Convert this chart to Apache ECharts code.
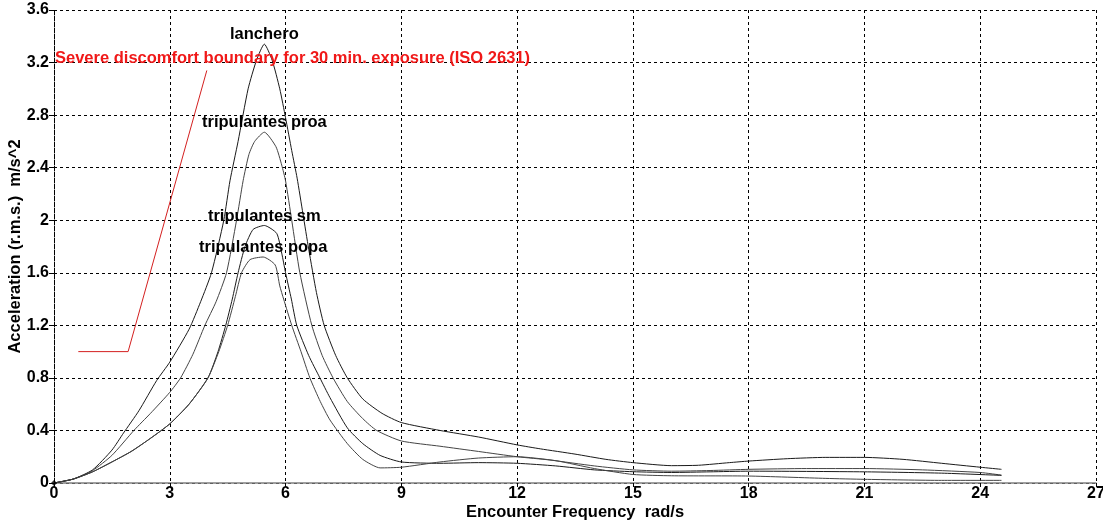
<!DOCTYPE html>
<html>
<head>
<meta charset="utf-8">
<script src="https://cdn.jsdelivr.net/npm/echarts@6/dist/echarts.min.js"></script>
<style>
  html, body { margin: 0; padding: 0; background: #fff; }
  #chart { width: 1103px; height: 523px; }
</style>
</head>
<body>
<div id="chart"></div>
<script>
// Encounter frequency (rad/s) vs. r.m.s. vertical acceleration (m/s^2)
const xTickLabels = ['0', '3', '6', '9', '12', '15', '18', '21', '24', '27'];
const yTickLabels = ['0', '0.4', '0.8', '1.2', '1.6', '2', '2.4', '2.8', '3.2', '3.6'];

const lancheroData = [
  [0, 0], [0.5, 0.03], [1, 0.1], [1.5, 0.25], [1.8, 0.38], [2.2, 0.55], [2.66, 0.78],
  [3, 0.92], [3.5, 1.17], [3.8, 1.38], [4.08, 1.6], [4.4, 2.0], [4.56, 2.3], [4.77, 2.6],
  [5.03, 3.0], [5.25, 3.22], [5.45, 3.34], [5.65, 3.22], [5.85, 3.0], [6.0, 2.78],
  [6.16, 2.53], [6.3, 2.32], [6.45, 2.05], [6.6, 1.78], [6.8, 1.45], [7.0, 1.2],
  [7.3, 0.97], [7.6, 0.8], [8.0, 0.64], [8.5, 0.53], [9, 0.46], [10, 0.4], [11, 0.35],
  [12, 0.29], [12.6, 0.26], [13.5, 0.22], [14.3, 0.18], [15, 0.155], [16, 0.132],
  [16.7, 0.135], [17.5, 0.155], [18, 0.167], [19, 0.185], [20, 0.195], [21, 0.195],
  [22, 0.18], [23, 0.15], [24, 0.12], [24.55, 0.104]
];

const proaData = [
  [0, 0], [0.5, 0.03], [1, 0.095], [1.5, 0.21], [2.07, 0.4], [2.5, 0.53], [3, 0.69],
  [3.28, 0.8], [3.6, 0.98], [3.91, 1.2], [4.2, 1.38], [4.47, 1.6], [4.73, 2.0], [4.9, 2.3],
  [5.05, 2.5], [5.2, 2.6], [5.45, 2.67], [5.75, 2.56], [5.9, 2.42], [6.0, 2.3], [6.16, 2.0],
  [6.37, 1.6], [6.68, 1.2], [6.95, 0.97], [7.23, 0.8], [7.6, 0.62], [8, 0.49], [8.36, 0.4],
  [9, 0.32], [10, 0.28], [11, 0.24], [12, 0.2], [12.85, 0.175], [14, 0.13], [15, 0.1],
  [16, 0.09], [17, 0.095], [18, 0.104], [19.5, 0.11], [21, 0.11], [22.5, 0.1], [24, 0.08],
  [24.55, 0.06]
];

const smData = [
  [0, 0], [0.5, 0.03], [1, 0.085], [1.5, 0.16], [2, 0.24], [2.5, 0.34], [3, 0.45],
  [3.5, 0.6], [3.99, 0.8], [4.25, 1.0], [4.45, 1.2], [4.62, 1.4], [4.77, 1.6], [4.95, 1.8],
  [5.16, 1.93], [5.45, 1.96], [5.77, 1.9], [5.9, 1.75], [6.0, 1.6], [6.15, 1.4], [6.29, 1.2],
  [6.6, 0.97], [6.89, 0.8], [7.15, 0.65], [7.6, 0.42], [8, 0.3], [8.45, 0.21], [9, 0.16],
  [10, 0.15], [11, 0.155], [12, 0.15], [13, 0.13], [14, 0.1], [15, 0.086], [16, 0.08],
  [17, 0.085], [18, 0.09], [21, 0.085], [23, 0.075], [24.55, 0.058]
];

const popaData = [
  [0, 0], [0.5, 0.03], [1, 0.085], [1.5, 0.16], [2, 0.24], [2.5, 0.34], [3, 0.45],
  [3.5, 0.6], [3.99, 0.8], [4.27, 1.0], [4.5, 1.2], [4.7, 1.42], [4.86, 1.6], [5.08, 1.7],
  [5.42, 1.72], [5.73, 1.66], [5.85, 1.5], [5.95, 1.4], [6.16, 1.2], [6.4, 1.0], [6.63, 0.8],
  [6.9, 0.62], [7.15, 0.48], [7.6, 0.3], [8, 0.18], [8.45, 0.115], [9, 0.12], [10, 0.16],
  [11, 0.19], [12, 0.2], [13, 0.17], [14, 0.11], [15, 0.065], [16, 0.055], [18, 0.053],
  [20, 0.035], [21, 0.028], [23, 0.02], [24.55, 0.02]
];

// ISO 2631 severe discomfort boundary, 30 min exposure
const isoX = [0.63, 1.92, 3.96];
const isoY = [1.0, 1.0, 3.14];
const isoTitle = 'Severe discomfort boundary for 30 min. exposure (ISO 2631)';

const FONT = 'Arial, "Liberation Sans", sans-serif';

function curve(name, points, color) {
  return {
    name, type: 'line', data: points,
    showSymbol: false, symbol: 'none', smooth: 0.2,
    lineStyle: { color, width: 1 }, z: 3,
    // series name written just above the curve's maximum
    markPoint: {
      symbol: 'circle', symbolSize: 0, silent: true,
      data: [{ type: 'max', valueDim: 'y' }],
      label: {
        show: true, position: 'top', distance: 1, formatter: name,
        color: '#000', fontFamily: FONT, fontWeight: 'bold', fontSize: 16.5
      }
    }
  };
}

const chart = echarts.init(document.getElementById('chart'), null, { renderer: 'canvas' });

chart.setOption({
  animation: false,
  backgroundColor: '#fff',
  title: {
    text: isoTitle, left: 50, top: 45,
    textStyle: { color: '#f01818', fontFamily: FONT, fontWeight: 'bold', fontSize: 16.5 }
  },
  grid: { left: 54, right: 7, top: 10, bottom: 40, containLabel: false, outerBoundsMode: 'none' },
  xAxis: {
    type: 'value', min: 0, max: 27, interval: 3,
    name: 'Encounter Frequency  rad/s', nameLocation: 'middle', nameGap: 21,
    nameMoveOverlap: false,
    nameTextStyle: { color: '#000', fontFamily: FONT, fontWeight: 'bold', fontSize: 16.5 },
    axisLine: { show: true, onZero: false, lineStyle: { color: '#808080', width: 1.5 } },
    axisTick: { show: true, length: 4, lineStyle: { color: '#000' } },
    axisLabel: {
      color: '#000', fontFamily: FONT, fontWeight: 'bold', fontSize: 16, margin: 3,
      formatter: v => xTickLabels[Math.round(v / 3)]
    },
    splitLine: { show: true, lineStyle: { color: '#000', type: [3, 3], width: 1 } }
  },
  yAxis: {
    type: 'value', min: 0, max: 3.6, interval: 0.4,
    name: 'Acceleration (r.m.s.)  m/s^2', nameLocation: 'middle', nameGap: 30,
    nameMoveOverlap: false,
    nameTextStyle: { color: '#000', fontFamily: FONT, fontWeight: 'bold', fontSize: 16.5 },
    axisLine: { show: true, lineStyle: { color: '#000', type: [3, 3], width: 1 } },
    axisTick: { show: true, length: 5, lineStyle: { color: '#000' } },
    axisLabel: {
      color: '#000', fontFamily: FONT, fontWeight: 'bold', fontSize: 16, margin: 5,
      formatter: v => yTickLabels[Math.round(v / 0.4)]
    },
    splitLine: { show: true, lineStyle: { color: '#000', type: [3, 3], width: 1 } }
  },
  series: [
    curve('lanchero', lancheroData, '#1a1a1a'),
    curve('tripulantes proa', proaData, '#444'),
    curve('tripulantes sm', smData, '#1a1a1a'),
    curve('tripulantes popa', popaData, '#444'),
    {
      name: 'ISO 2631', type: 'line', data: isoX.map((x, i) => [x, isoY[i]]),
      showSymbol: false, symbol: 'none', lineStyle: { color: '#d42020', width: 1 }, z: 2
    },
    {
      name: 'origin', type: 'scatter', data: [[0, 0]], symbol: 'diamond', symbolSize: 6,
      itemStyle: { color: '#000' }, z: 4
    }
  ]
});
</script>
</body>
</html>
